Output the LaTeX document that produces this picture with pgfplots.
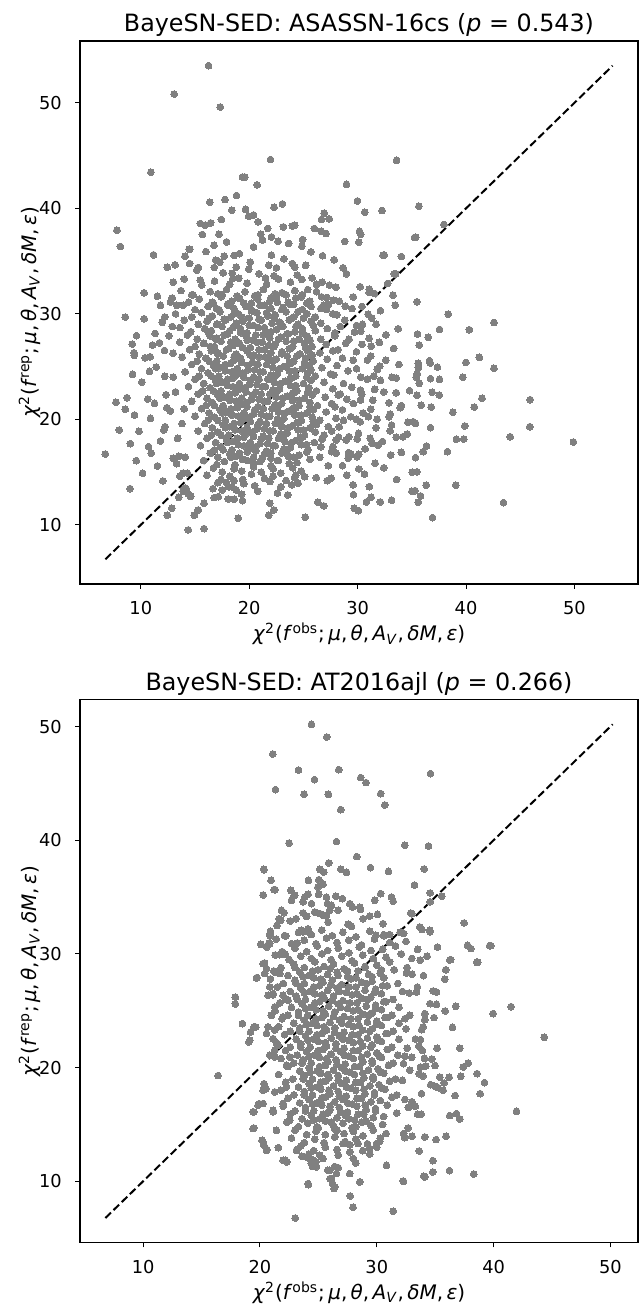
\documentclass[border=0pt]{standalone}
\usepackage{fontspec}
\setmainfont{DejaVu Sans}
\usepackage{pgfplots}
\pgfplotsset{compat=1.18}
\definecolor{ptgray}{HTML}{808080}

\newcommand{\chilab}[1]{\textit{χ}\textsuperscript{2}(\textit{f}\textsuperscript{#1};\,\textit{μ},\,\textit{θ},\,\textit{A}\textsubscript{\textit{V}},\,\textit{δM},\,\textit{ε})}

\pgfplotsset{
  ppc/.style={
    scale only axis, width=279pt, height=271.5pt,
    axis line style={line width=0.6pt},
    tick align=outside, xtick pos=bottom, ytick pos=left,
    major tick length=2.3pt,
    every tick/.style={black, line width=0.55pt},
    xtick={10,20,30,40,50}, ytick={10,20,30,40,50},
    /pgf/number format/assume math mode=true,
    tick label style={font=\fontsize{8.9}{10}\selectfont},
    xticklabel style={anchor=base, inner sep=0pt, yshift=-13pt},
    yticklabel style={anchor=east, inner sep=0pt, xshift=-6.6pt},
    every axis title/.style={at={(0.5,1)}, anchor=base, yshift=4.5pt,
      font=\fontsize{11.9}{13}\selectfont},
    every axis x label/.style={at={(axis description cs:0.5,-0.1046)}, anchor=base,
      font=\fontsize{10}{11}\selectfont},
    every axis y label/.style={at={(axis description cs:-0.0781,0.5)}, rotate=90, anchor=base,
      font=\fontsize{10}{11}\selectfont},
    xlabel={\chilab{obs}},
    ylabel={\chilab{rep}},
  },
  pts/.style={only marks, mark=*, mark size=1.7pt, color=ptgray,
    mark options={draw=ptgray, fill=ptgray, line width=0pt}},
  diag/.style={black, line width=1pt, dash pattern=on 3.9pt off 1.8pt, mark=none},
}

\begin{document}
\begin{tikzpicture}
\useasboundingbox (-40pt,-360pt) rectangle (280.5pt,292pt);

% ---------------- top panel ----------------
\begin{axis}[ppc, at={(0,0)}, anchor=south west,
  xmin=4.39, xmax=55.86, ymin=4.39, ymax=55.86,
  title={BayeSN-SED: ASASSN-16cs (\textit{p} = 0.543)}]
% outlying / sparse points
\addplot[pts] coordinates {
(16.25,53.52) (13.07,50.83) (17.33,49.6) (21.96,44.62) (33.59,44.55) (10.93,43.42) (19.38,42.97) (20.73,42.22)
(28.97,42.28) (18.83,41.21) (17.76,40.83) (16.35,40.58) (23.06,40.42) (22.29,40.1) (29.98,40.7) (35.65,40.2)
(18.4,39.82) (19.66,39.91) (19.94,39.25) (20.4,39.37) (30.65,39.63) (32.25,39.79) (26.92,39.54) (26.67,38.94)
(27.38,39.0) (17.42,38.94) (20.82,38.71) (15.49,38.56) (15.92,38.4) (16.44,38.62) (21.71,38.09) (23.15,38.24)
(23.98,38.33) (24.19,38.4) (37.95,38.47) (7.8,37.93) (15.67,37.52) (17.21,37.55) (21.07,37.55) (21.22,37.0)
(22.05,37.29) (22.66,36.88) (23.64,36.67) (26.0,38.09) (26.64,37.83) (27.07,37.61) (30.17,37.83) (30.29,37.52)
(35.24,37.23) (24.93,37.04) (24.86,36.41) (17.91,36.82) (16.75,36.5) (8.11,36.38) (20.4,36.34) (28.81,36.86)
(30.1,36.79) (14.45,36.13) (22.05,35.56) (11.17,35.59) (14.08,35.46) (17.7,35.46) (18.61,35.53) (25.69,35.87)
(26.76,35.5) (27.84,35.12) (32.34,35.56) (34.03,35.43) (16.9,35.09) (17.3,34.9) (14.51,34.77) (23.98,34.77)
(13.16,34.64) (12.45,34.42) (15.3,34.39) (15.16,34.14) (16.77,34.39) (18.8,34.42) (19.96,34.23) (22.51,34.36)
(28.66,34.36) (28.97,33.79) (24.19,34.42) (24.44,33.67) (24.86,33.26) (33.38,33.79) (17.6,33.89) (18.43,33.83)
(18.49,33.35) (19.04,33.38) (20.9,33.8) (21.5,33.4) (22.3,33.6) (22.7,33.3) (15.49,33.19) (15.62,32.72)
(32.77,32.88) (26.73,33.0) (27.4,32.72) (28.0,32.53) (30.23,32.57) (31.08,32.34) (25.4,32.3) (32.45,35.58)
(35.35,37.26) (33.5,33.8) (14.52,36.12) (19.6,42.96)
(35.47,31.14) (38.35,29.97) (42.57,29.18) (37.55,28.52) (40.3,28.49) (35.52,28.08) (36.51,27.77) (35.68,27.04)
(41.22,25.87) (36.63,25.55) (36.7,25.33) (39.98,25.39) (35.6,25.3) (35.6,24.9) (35.5,24.3) (35.4,24.0)
(37.36,24.95) (42.57,24.83) (39.7,23.98) (36.72,23.85) (37.55,23.79) (35.68,23.41) (36.87,22.56) (37.52,22.3)
(35.47,22.27) (41.47,21.99) (45.91,21.86) (35.86,21.33) (36.78,21.16) (40.76,21.16) (38.78,20.66) (35.34,19.62)
(36.72,19.2) (39.88,19.37) (45.88,19.3) (39.11,18.11) (39.79,18.13) (44.07,18.35) (49.9,17.85) (36.35,17.47)
(36.05,16.93) (38.28,16.93) (35.34,16.37) (35.47,15.01) (36.33,13.75) (39.05,13.75) (35.29,13.24) (35.8,12.74)
(35.59,12.14) (43.45,12.1) (36.91,10.68)
(26.67,31.61) (27.16,31.55) (28.85,30.73) (26.86,30.82) (27.13,30.42) (29.49,30.5) (31.06,32.03) (31.55,31.93)
(33.26,31.77) (33.47,30.82) (30.96,29.97) (31.7,29.0) (33.75,28.58) (30.44,29.0) (30.29,28.36) (29.71,28.27)
(31.06,27.67) (31.24,26.94) (33.32,26.72) (29.89,26.4) (30.9,25.62) (32.03,25.05) (31.82,24.74) (33.16,23.98)
(33.56,23.91) (30.3,24.0) (30.9,23.8) (31.5,24.1) (32.1,23.7) (31.57,22.84) (29.46,23.03) (30.26,22.77)
(34.79,22.71) (33.56,22.52) (30.38,22.37) (30.26,21.83) (32.89,21.57) (34.03,21.29) (33.93,21.1) (31.21,20.95)
(32.99,20.5) (32.89,20.22) (29.37,20.25) (29.89,20.0) (30.23,19.77) (30.99,20.25) (31.79,20.0) (31.7,19.2)
(33.13,19.46) (34.64,19.72) (35.13,19.77) (34.58,18.61) (34.18,18.35) (33.56,18.3) (30.08,18.67) (29.95,18.13)
(29.18,18.35) (28.94,18.04) (28.24,18.32) (28.02,18.04) (31.15,18.2) (31.33,17.73) (31.88,17.54) (27.71,17.41)
(27.59,16.93) (28.02,16.78) (29.16,16.84) (29.4,16.68) (29.95,16.46) (30.1,16.68) (29.13,16.31) (33.04,16.62)
(34.03,16.87) (31.61,15.83) (35.04,14.98) (30.63,14.82) (27.56,14.41) (27.2,14.19) (26.18,14.47) (25.11,14.56)
(24.19,14.47) (23.94,13.78) (23.55,12.83) (24.5,13.94) (29.58,13.78) (31.08,13.62) (35.01,13.18) (31.24,12.61)
(30.81,12.17) (29.61,12.86) (32.09,12.17) (33.13,12.33) (26.33,12.14) (26.88,11.79) (29.68,11.57) (30.07,11.34)
(21.89,12.04) (22.26,11.41) (21.8,10.91) (25.17,10.72) (27.3,30.9) (28.1,29.9) (28.4,28.8) (28.9,27.2)
(28.6,25.8) (29.1,24.6) (28.7,23.4) (29.0,21.9) (28.6,20.9) (28.3,19.3)
(10.31,31.99) (11.53,31.67) (14.7,31.8) (12.73,31.11) (13.32,30.8) (11.81,30.8) (8.57,29.69) (10.31,29.53)
(11.97,29.19) (9.6,27.92) (11.32,28.14) (9.21,27.13) (9.37,26.31) (9.39,26.06) (11.08,27.04) (11.72,27.25)
(12.18,26.53) (12.98,26.25) (10.4,25.83) (10.86,25.93) (11.42,24.95) (10.8,24.55) (9.24,24.26) (10.1,23.53)
(12.21,24.07) (12.33,22.33) (7.71,21.61) (8.72,22.05) (8.57,20.95) (10.65,21.92) (11.26,21.52) (9.42,20.41)
(10.89,20.09) (12.4,21.1) (12.73,20.79) (8.01,18.99) (9.83,18.86) (12.24,19.3) (12.12,18.99) (9.03,17.69)
(10.71,17.41) (10.96,16.78) (11.81,17.95) (6.73,16.71) (9.58,16.08) (11.53,15.58) (10.16,14.89) (12.03,14.16)
(9.0,13.43) (13.0,16.3) (13.5,16.5) (14.1,16.4) (13.3,15.8) (13.9,14.9) (14.3,14.9) (13.6,14.6)
(14.2,13.4) (13.9,13.2) (12.86,11.57) (12.45,10.91) (14.38,9.52) (15.83,9.64) (14.94,10.91) (15.3,11.41)
(15.83,12.04) (14.4,12.9) (14.6,12.7) (13.5,12.6) (14.1,13.5) (16.65,13.43) (17.14,12.67) (16.77,12.58)
(18.06,12.45) (18.61,12.42) (19.38,12.29) (18.98,10.62) (18.8,13.3) (18.4,13.6) (17.9,14.0) (18.6,14.2)
(13.4,18.2) (13.8,19.6) (14.0,21.0) (13.2,22.6) (13.0,24.0) (12.6,27.9) (12.2,29.7) (12.9,28.8)
(28.3,31.2) (29.6,31.6) (30.4,30.7) (32.1,30.3) (28.8,29.4) (29.9,28.9) (31.3,29.6) (32.6,28.0)
(27.9,28.2) (29.2,27.6) (30.4,27.1) (32.0,27.3) (28.2,26.6) (29.6,25.6) (31.2,26.0) (32.6,25.6)
(27.8,24.2) (29.9,24.8) (33.8,25.2) (28.4,22.4) (29.6,21.5) (31.4,21.8) (32.4,22.6) (27.9,21.2)
(30.5,20.6) (28.7,19.9) (33.0,18.9) (27.6,18.9) (30.7,17.2) (32.3,17.9) (28.6,15.6) (30.1,15.3)
(32.4,15.4) (27.3,15.6) (29.0,14.7) (33.6,14.3)
(14.0,33.3) (16.8,33.1) (19.8,32.9) (23.8,33.0) (25.8,33.4) (13.0,33.0) (20.1,34.9) (21.8,34.6)
(23.2,35.2) (25.2,34.6) (19.1,35.7) (16.0,35.9) (26.2,32.8) (18.2,32.8) (21.6,32.8)
};
% dense core
\addplot[pts] coordinates {
(13.7,32.2) (14.8,31.8) (16.4,32.1) (17.1,31.9) (17.9,32.3) (18.9,31.7) (19.6,32.1) (20.8,31.8) (21.3,32.3) (22.4,31.9) (23.0,32.0) (24.2,32.2) (24.9,31.8) (26.2,32.1)
(12.9,31.5) (14.4,31.1) (15.4,31.4) (16.7,31.0) (17.4,31.6) (18.4,31.2) (19.1,31.5) (20.2,31.0) (20.8,31.4) (21.9,31.2) (22.5,31.6) (23.6,31.1) (24.3,31.5) (25.6,31.2) (27.8,31.3)
(13.9,30.8) (15.0,30.4) (16.2,30.7) (17.0,30.5) (18.0,30.9) (18.6,30.5) (19.7,30.7) (20.3,30.3) (21.4,30.8) (22.0,30.5) (23.1,30.6) (23.8,30.9) (24.9,30.4) (25.7,30.7) (26.6,30.5)
(13.2,30.0) (14.7,29.7) (15.6,30.1) (16.6,29.8) (17.3,30.2) (18.3,29.7) (19.0,30.0) (20.0,29.6) (20.7,30.1) (21.7,29.8) (22.4,29.9) (23.4,30.2) (24.1,29.7) (25.3,30.0) (26.1,29.7) (27.7,30.0)
(14.0,29.4) (15.3,29.0) (16.1,29.3) (17.1,29.0) (17.7,29.5) (18.8,29.1) (19.4,29.3) (20.4,28.9) (21.1,29.4) (22.1,29.1) (22.8,29.2) (23.8,29.5) (24.5,29.0) (25.7,29.3) (26.6,29.1)
(13.6,28.7) (14.6,28.3) (15.9,28.6) (16.5,28.4) (17.5,28.8) (18.2,28.4) (19.2,28.6) (19.8,28.2) (20.8,28.7) (21.5,28.3) (22.5,28.5) (23.1,28.8) (24.2,28.3) (24.9,28.6) (26.1,28.4) (27.2,28.6)
(14.3,28.0) (15.2,27.6) (16.4,27.9) (17.0,27.7) (18.0,28.1) (18.7,27.6) (19.7,27.9) (20.3,27.5) (21.3,28.0) (21.9,27.7) (22.9,27.8) (23.6,28.1) (24.6,27.6) (25.3,27.9) (26.6,27.6) (27.9,27.9)
(13.6,27.3) (15.0,26.9) (15.8,27.2) (16.8,26.9) (17.4,27.4) (18.5,27.0) (19.1,27.2) (20.1,26.8) (20.7,27.3) (21.8,27.0) (22.4,27.1) (23.4,27.4) (24.0,26.9) (25.1,27.2) (25.8,26.9) (27.1,27.1)
(14.5,26.6) (15.4,26.2) (16.5,26.5) (17.1,26.3) (18.1,26.7) (18.8,26.2) (19.8,26.5) (20.4,26.1) (21.4,26.6) (22.0,26.3) (23.0,26.4) (23.7,26.7) (24.7,26.2) (25.4,26.5) (26.5,26.3) (27.7,26.5)
(13.8,25.9) (15.2,25.5) (16.0,25.8) (17.0,25.5) (17.6,26.0) (18.6,25.6) (19.2,25.8) (20.3,25.4) (20.9,25.9) (21.9,25.6) (22.5,25.7) (23.5,26.0) (24.1,25.5) (25.2,25.8) (25.9,25.5) (27.2,25.7)
(14.7,25.2) (15.6,24.8) (16.7,25.1) (17.3,24.9) (18.3,25.3) (18.9,24.8) (19.9,25.1) (20.5,24.7) (21.6,25.2) (22.2,24.9) (23.2,25.0) (23.8,25.3) (24.9,24.8) (25.5,25.1) (26.7,24.9) (28.1,25.1)
(14.1,24.5) (15.4,24.1) (16.2,24.4) (17.2,24.1) (17.8,24.6) (18.8,24.2) (19.4,24.4) (20.4,24.0) (21.0,24.5) (22.0,24.2) (22.6,24.3) (23.7,24.6) (24.3,24.1) (25.4,24.4) (26.1,24.1) (27.5,24.3)
(15.0,23.8) (15.8,23.4) (16.9,23.7) (17.5,23.5) (18.5,23.9) (19.1,23.4) (20.1,23.7) (20.7,23.3) (21.7,23.8) (22.3,23.5) (23.3,23.6) (23.9,23.9) (25.0,23.4) (25.7,23.7) (26.9,23.5)
(14.4,23.1) (15.7,22.7) (16.4,23.0) (17.4,22.7) (18.0,23.2) (19.0,22.8) (19.6,23.0) (20.6,22.6) (21.2,23.1) (22.2,22.8) (22.8,22.9) (23.8,23.2) (24.4,22.7) (25.5,23.0) (26.2,22.7) (27.7,22.9)
(15.3,22.4) (16.1,22.0) (17.1,22.3) (17.7,22.1) (18.7,22.5) (19.3,22.0) (20.3,22.3) (20.9,21.9) (21.9,22.4) (22.5,22.1) (23.5,22.2) (24.1,22.5) (25.1,22.0) (25.8,22.3) (27.0,22.1) (28.2,22.3)
(14.7,21.7) (16.0,21.3) (16.6,21.6) (17.6,21.3) (18.2,21.8) (19.2,21.4) (19.8,21.6) (20.8,21.2) (21.4,21.7) (22.4,21.4) (23.0,21.5) (24.0,21.8) (24.6,21.3) (25.6,21.6) (26.3,21.3) (27.6,21.5)
(15.6,21.0) (16.3,20.6) (17.3,20.9) (17.9,20.7) (18.9,21.1) (19.5,20.6) (20.5,20.9) (21.1,20.5) (22.1,21.0) (22.7,20.7) (23.7,20.8) (24.3,21.1) (25.3,20.6) (25.9,20.9) (27.1,20.7)
(15.0,20.3) (16.2,19.9) (16.8,20.2) (17.8,19.9) (18.4,20.4) (19.4,20.0) (20.0,20.2) (21.0,19.8) (21.6,20.3) (22.6,20.0) (23.2,20.1) (24.2,20.4) (24.8,19.9) (25.8,20.2) (26.5,19.9) (28.0,20.1)
(15.9,19.6) (16.6,19.2) (17.6,19.5) (18.2,19.3) (19.2,19.7) (19.8,19.2) (20.8,19.5) (21.4,19.1) (22.4,19.6) (23.0,19.3) (24.0,19.4) (24.6,19.7) (25.6,19.2) (26.2,19.5) (27.3,19.3)
(15.3,18.9) (16.5,18.5) (17.1,18.8) (18.1,18.5) (18.7,19.0) (19.7,18.6) (20.3,18.8) (21.3,18.4) (21.9,18.9) (22.9,18.6) (23.5,18.7) (24.5,19.0) (25.1,18.5) (26.1,18.8) (26.9,18.5)
(16.1,18.2) (16.9,17.8) (17.9,18.1) (18.5,17.9) (19.5,18.3) (20.1,17.8) (21.1,18.1) (21.7,17.7) (22.7,18.2) (23.3,17.9) (24.3,18.0) (24.9,18.3) (26.0,17.8) (26.7,18.1)
(15.5,17.5) (16.8,17.1) (17.4,17.4) (18.4,17.1) (19.0,17.6) (20.0,17.2) (20.6,17.4) (21.6,17.0) (22.2,17.5) (23.2,17.2) (23.8,17.3) (24.8,17.6) (25.4,17.1) (26.6,17.4)
(16.4,16.8) (17.1,16.4) (18.2,16.7) (18.8,16.5) (19.8,16.9) (20.4,16.4) (21.4,16.7) (22.0,16.3) (23.0,16.8) (23.6,16.5) (24.6,16.6) (25.3,16.9) (26.5,16.4)
(15.8,16.1) (17.0,15.7) (17.7,16.0) (18.7,15.7) (19.4,16.2) (20.4,15.8) (21.0,16.0) (22.0,15.6) (22.6,16.1) (23.7,15.8) (24.4,15.9) (25.6,16.2)
(16.7,15.4) (17.5,15.0) (18.6,15.3) (19.3,15.1) (20.4,15.5) (21.1,15.0) (22.2,15.3) (22.9,14.9) (24.0,15.4) (24.8,15.1)
(16.1,14.7) (17.4,14.3) (18.2,14.6) (19.4,14.3) (20.2,14.8) (21.4,14.4) (22.2,14.6) (23.4,14.2) (24.3,14.7)
(17.1,14.0) (18.1,13.6) (19.5,13.9) (20.5,13.7) (21.9,14.1) (22.9,13.6)
(17.5,13.3) (19.3,12.9) (20.8,13.2) (22.6,13.0)
};
% extra points filling the core
\addplot[pts] coordinates {
(17.5,31.8) (19.0,31.5) (20.5,31.7) (22.0,31.5) (23.4,31.8) (24.8,31.6)
(16.6,31.1) (18.1,30.8) (19.5,31.0) (21.0,30.8) (22.6,31.1) (24.1,30.9) (25.3,31.0)
(17.2,30.4) (18.7,30.1) (20.2,30.3) (21.6,30.1) (23.0,30.4) (24.5,30.2)
(16.3,29.6) (17.8,29.4) (19.3,29.7) (20.9,29.5) (22.3,29.6) (23.7,29.4) (25.0,29.6)
(17.0,29.0) (18.5,28.7) (20.0,28.9) (21.4,28.7) (22.9,29.0) (24.3,28.8) (25.9,28.9)
(16.2,28.3) (17.7,28.0) (19.2,28.2) (20.6,28.0) (22.0,28.3) (23.5,28.1) (24.9,28.2)
(16.9,27.6) (18.3,27.3) (19.8,27.5) (21.2,27.3) (22.7,27.6) (24.1,27.4) (25.6,27.5)
(16.4,26.9) (17.9,26.6) (19.4,26.8) (20.9,26.6) (22.3,26.9) (23.8,26.7) (25.2,26.8)
(17.1,26.2) (18.6,25.9) (20.1,26.1) (21.5,25.9) (23.0,26.2) (24.4,26.0) (25.8,26.1)
(16.3,25.5) (17.8,25.2) (19.3,25.4) (20.8,25.2) (22.2,25.5) (23.7,25.3) (25.1,25.4)
(16.9,24.8) (18.4,24.5) (19.9,24.7) (21.3,24.5) (22.8,24.8) (24.2,24.6) (25.7,24.7)
(16.5,24.1) (18.0,23.8) (19.5,24.0) (20.9,23.8) (22.4,24.1) (23.8,23.9) (25.3,24.0)
(17.0,23.4) (18.5,23.1) (20.0,23.3) (21.5,23.1) (22.9,23.4) (24.3,23.2)
(16.7,22.7) (18.2,22.4) (19.7,22.6) (21.1,22.4) (22.6,22.7) (24.0,22.5) (25.4,22.6)
(17.3,22.0) (18.8,21.7) (20.2,21.9) (21.7,21.7) (23.1,22.0) (24.6,21.8)
(16.8,21.3) (18.3,21.0) (19.8,21.2) (21.3,21.0) (22.7,21.3) (24.1,21.1) (25.6,21.2)
(17.5,20.6) (19.0,20.3) (20.4,20.5) (21.9,20.3) (23.3,20.6) (24.8,20.4)
(17.1,19.9) (18.6,19.6) (20.1,19.8) (21.6,19.6) (23.0,19.9) (24.4,19.7) (25.9,19.8)
(17.8,19.2) (19.3,18.9) (20.7,19.1) (22.2,18.9) (23.6,19.2) (25.0,19.0)
(17.4,18.5) (18.9,18.2) (20.4,18.4) (21.8,18.2) (23.2,18.5) (24.7,18.3)
(18.0,17.8) (19.5,17.5) (21.0,17.7) (22.4,17.5) (23.9,17.8) (25.3,17.6)
(17.6,17.1) (19.1,16.8) (20.6,17.0) (22.0,16.8) (23.5,17.1)
(18.3,16.4) (19.8,16.1) (21.2,16.3) (22.7,16.1) (24.1,16.4)
};
\addplot[diag] coordinates {(6.73,6.73) (53.52,53.52)};
\end{axis}

% ---------------- bottom panel ----------------
\begin{axis}[ppc, at={(0,-329.35pt)}, anchor=south west,
  xmin=4.6, xmax=52.36, ymin=4.6, ymax=52.36,
  title={BayeSN-SED: AT2016ajl (\textit{p} = 0.266)}]
\addplot[pts] coordinates {
(24.41,50.19) (25.72,49.08) (21.1,47.58) (23.3,46.17) (26.75,46.21) (34.6,45.86) (24.67,45.33) (28.63,45.51)
(29.08,45.07) (21.33,44.45) (23.78,44.04) (25.86,44.04) (30.34,44.1) (30.69,43.1) (26.92,42.69) (22.49,39.75)
(26.55,39.88) (32.4,39.55) (34.43,39.49) (28.29,38.56) (20.33,37.44) (25.89,38.0) (25.12,37.44) (25.46,37.2)
(26.92,37.44) (27.41,37.18) (29.46,37.59) (31.0,37.26) (34.05,37.47) (20.95,36.47) (24.15,36.47) (25.04,36.53)
(25.4,36.12) (24.97,35.88) (33.23,36.06) (20.27,35.18) (21.21,35.66) (22.64,35.59) (22.7,34.71) (22.98,35.15)
(30.34,35.3) (29.83,34.71) (31.26,35.0) (31.4,34.63) (34.56,35.36) (35.56,35.07) (34.56,34.57) (29.4,33.33)
(30.06,33.48) (28.83,33.1) (32.91,33.6) (37.47,32.72) (30.54,32.66) (21.84,33.83) (22.06,33.63) (21.78,32.95)
(21.46,32.5) (27.54,32.6) (27.83,32.43) (33.68,32.37) (34.54,32.07) (23.84,35.0) (24.12,35.24) (23.69,34.57)
(24.41,34.42) (24.69,33.69) (25.12,33.55) (25.03,35.24) (25.69,35.0) (25.78,34.42) (26.12,34.27) (26.49,35.07)
(27.06,34.86) (26.69,33.83) (25.98,33.83) (25.69,33.39) (25.83,32.8) (25.4,33.39) (27.69,34.42) (27.92,34.12)
(28.54,34.12) (28.6,33.9) (23.7,33.6) (24.0,33.3) (23.55,32.07) (24.1,32.2) (22.6,32.9) (23.1,33.1)
(20.35,37.41) (21.3,35.65) (22.92,35.15) (21.65,33.1) (20.88,31.61) (22.22,31.58) (20.11,30.82) (20.78,30.96)
(21.7,29.94) (22.18,29.96) (23.2,30.96) (23.69,31.93) (24.21,31.9) (29.93,31.64) (30.6,31.6) (31.1,31.7)
(32.3,31.8) (32.99,33.54) (33.86,32.14) (34.56,31.94) (36.32,29.5) (38.64,29.27) (39.76,30.73) (33.5,30.4)
(34.3,29.8) (35.2,30.6) (35.9,28.6) (33.0,29.6)
(37.77,30.76) (38.05,30.47) (39.67,30.73) (33.71,29.46) (36.25,29.46) (38.56,29.26) (32.54,28.32) (33.02,28.21)
(34.0,28.09) (35.82,27.77) (34.82,26.74) (35.11,26.65) (33.48,27.09) (33.4,26.65) (32.77,26.56) (34.56,25.63)
(35.11,25.57) (36.76,25.39) (35.85,24.98) (41.5,25.36) (39.96,24.75) (34.11,24.75) (32.83,24.6) (32.42,24.31)
(34.11,24.22) (34.9,24.4) (36.48,23.54) (33.96,23.57) (33.85,23.34) (44.33,22.66) (32.5,23.4) (33.31,22.52)
(33.74,22.46) (35.16,21.7) (37.11,21.7) (32.6,21.7) (32.4,21.0) (33.0,20.9) (33.6,21.9) (33.9,21.5)
(34.08,20.82) (34.71,20.76) (34.99,20.18) (34.2,20.14) (33.74,20.05) (37.82,20.4) (37.39,20.05) (32.29,20.35)
(32.83,19.76) (32.2,18.88) (33.62,19.47) (33.96,19.26) (35.39,19.17) (36.19,19.15) (37.19,19.23) (38.59,19.47)
(39.22,18.68) (34.62,18.5) (34.97,18.36) (35.25,18.24) (35.68,18.0) (35.76,18.65) (33.83,17.71) (36.71,17.54)
(38.85,17.71) (32.4,17.2) (33.0,17.0) (33.3,16.6) (32.7,16.5) (33.5,15.9) (33.8,15.9) (41.96,16.16)
(36.25,15.78) (36.82,15.95) (37.11,15.48) (32.68,14.69) (32.31,14.2) (32.4,13.84) (33.02,13.96) (34.11,13.9)
(35.08,13.67) (35.93,13.96) (33.63,12.67) (34.8,11.82) (34.02,10.44) (34.8,10.82) (36.22,10.94) (38.3,10.64)
(32.25,10.03)
(16.42,19.3) (17.9,26.2) (17.9,25.6) (18.5,23.87) (19.06,22.25) (19.2,23.13) (19.65,23.57) (19.76,27.92)
(19.93,16.83) (19.47,16.1) (19.47,14.69) (20.18,13.6) (20.35,13.17) (20.6,12.79) (20.35,18.59) (20.53,18.15)
(21.13,16.24) (21.58,12.96) (22.18,11.85) (22.3,11.7) (23.16,12.79) (24.14,9.71) (23.02,6.77) (23.6,12.2)
(24.3,12.0) (24.4,11.6) (24.5,11.3) (25.8,10.97) (26.0,10.24) (26.21,9.8) (26.35,9.36) (26.7,11.2)
(27.72,8.71) (27.97,7.71) (28.56,9.94) (31.41,7.36) (32.29,10.0) (34.11,10.38)
(20.07,30.85) (20.84,31.73) (20.84,30.91) (20.27,29.15) (20.56,28.71) (20.41,28.27) (19.7,27.89) (21.27,28.4)
(21.7,28.27) (20.84,27.1) (21.13,26.51) (20.7,26.36) (21.98,26.36) (22.41,25.92) (21.27,25.34) (20.98,24.6)
(21.98,24.46) (19.5,23.58) (19.13,22.4) (20.7,23.58) (21.27,23.3) (20.56,23.0) (21.13,22.55) (21.56,21.97)
(21.27,21.53) (20.84,21.09) (21.27,20.94) (22.55,20.94) (22.27,20.2) (20.41,18.3) (20.27,18.0) (21.27,17.86)
(22.27,18.3) (20.27,16.84) (19.84,16.69) (19.41,16.1) (21.13,16.1) (21.98,16.84) (19.41,14.64) (21.41,14.49)
(22.55,15.37) (20.27,13.46) (20.56,12.73) (21.98,11.85) (23.13,12.73) (24.12,9.8) (25.98,10.97) (26.12,10.24)
(26.41,9.5) (23.98,12.15) (24.55,11.85) (25.12,12.29) (24.84,11.27) (27.12,13.32) (27.69,12.58) (28.41,13.32)
(29.4,12.88) (29.98,13.32) (30.26,13.52) (30.83,11.41) (28.55,9.95) (26.55,10.68) (27.69,10.68)
};
\addplot[pts] coordinates {
(20.9,32.0) (22.1,31.6) (23.3,31.9) (24.4,31.7) (25.3,32.1) (26.2,31.6) (27.1,31.9) (28.2,31.5) (29.4,32.0) (30.6,31.7) (32.0,31.9)
(21.4,31.3) (22.7,30.9) (23.8,31.2) (24.8,30.9) (25.7,31.4) (26.6,31.0) (27.6,31.2) (28.7,30.8) (29.8,31.3) (31.1,31.0) (32.5,31.1)
(20.6,30.6) (21.9,30.2) (23.0,30.5) (24.0,30.2) (24.9,30.7) (25.8,30.3) (26.7,30.5) (27.6,30.1) (28.5,30.6) (29.5,30.3) (30.5,30.4) (31.6,30.7)
(21.3,29.9) (22.5,29.5) (23.5,29.8) (24.4,29.6) (25.3,30.0) (26.1,29.5) (27.0,29.8) (27.9,29.4) (28.8,29.9) (29.7,29.6) (30.8,29.7) (32.1,30.0)
(20.4,29.2) (21.8,28.8) (22.9,29.1) (23.8,28.8) (24.7,29.3) (25.5,28.9) (26.3,29.1) (27.2,28.7) (28.1,29.2) (29.0,28.9) (30.0,29.0) (31.1,29.3) (32.6,28.8)
(21.2,28.5) (22.4,28.1) (23.4,28.4) (24.2,28.1) (25.0,28.6) (25.8,28.2) (26.6,28.4) (27.5,28.0) (28.4,28.5) (29.3,28.2) (30.3,28.3) (31.5,28.6)
(20.9,27.8) (22.0,27.4) (23.0,27.7) (23.8,27.4) (24.6,27.9) (25.4,27.5) (26.2,27.7) (27.0,27.3) (27.8,27.8) (28.7,27.5) (29.6,27.6) (30.6,27.9) (31.8,27.4)
(21.5,27.1) (22.6,26.7) (23.5,27.0) (24.3,26.7) (25.1,27.2) (25.8,26.8) (26.6,27.0) (27.4,26.6) (28.2,27.1) (29.0,26.8) (29.9,26.9) (30.9,27.2) (32.2,26.7)
(21.1,26.4) (22.2,26.0) (23.1,26.3) (23.9,26.0) (24.7,26.5) (25.5,26.1) (26.3,26.3) (27.1,25.9) (27.9,26.4) (28.7,26.1) (29.5,26.2) (30.4,26.5) (31.4,26.0)
(21.7,25.7) (22.7,25.3) (23.6,25.6) (24.4,25.3) (25.1,25.8) (25.9,25.4) (26.7,25.6) (27.5,25.2) (28.3,25.7) (29.1,25.4) (29.9,25.5) (30.8,25.8) (31.9,25.3)
(21.3,25.0) (22.4,24.6) (23.3,24.9) (24.1,24.6) (24.8,25.1) (25.6,24.7) (26.4,24.9) (27.2,24.5) (28.0,25.0) (28.8,24.7) (29.6,24.8) (30.4,25.1) (31.3,24.6)
(21.9,24.3) (22.9,23.9) (23.8,24.2) (24.5,23.9) (25.3,24.4) (26.0,24.0) (26.8,24.2) (27.6,23.8) (28.4,24.3) (29.2,24.0) (30.0,24.1) (30.9,24.4) (31.9,23.9)
(21.6,23.6) (22.6,23.2) (23.4,23.5) (24.2,23.2) (24.9,23.7) (25.7,23.3) (26.4,23.5) (27.2,23.1) (28.0,23.6) (28.8,23.3) (29.6,23.4) (30.4,23.7) (31.4,23.2)
(22.1,22.9) (23.1,22.5) (23.9,22.8) (24.6,22.5) (25.3,23.0) (26.1,22.6) (26.8,22.8) (27.6,22.4) (28.4,22.9) (29.2,22.6) (30.0,22.7) (30.9,23.0) (31.9,22.5)
(21.4,22.2) (22.6,21.8) (23.5,22.1) (24.3,21.8) (25.0,22.3) (25.7,21.9) (26.5,22.1) (27.2,21.7) (28.0,22.2) (28.8,21.9) (29.6,22.0) (30.4,22.3) (31.3,21.8)
(22.2,21.5) (23.2,21.1) (24.0,21.4) (24.7,21.1) (25.4,21.6) (26.1,21.2) (26.9,21.4) (27.6,21.0) (28.4,21.5) (29.2,21.2) (30.0,21.3) (30.9,21.6) (31.8,21.1)
(21.8,20.8) (22.9,20.4) (23.7,20.7) (24.4,20.4) (25.1,20.9) (25.8,20.5) (26.5,20.7) (27.3,20.3) (28.0,20.8) (28.8,20.5) (29.6,20.6) (30.4,20.9) (31.4,20.4)
(22.4,20.1) (23.4,19.7) (24.2,20.0) (24.9,19.7) (25.6,20.2) (26.3,19.8) (27.0,20.0) (27.7,19.6) (28.5,20.1) (29.3,19.8) (30.1,19.9) (31.0,20.2)
(21.6,19.4) (22.8,19.0) (23.8,19.3) (24.5,19.0) (25.2,19.5) (25.9,19.1) (26.7,19.3) (27.4,18.9) (28.1,19.4) (28.9,19.1) (29.7,19.2) (30.6,19.5) (31.6,19.0)
(22.2,18.7) (23.3,18.3) (24.2,18.6) (24.9,18.3) (25.6,18.8) (26.3,18.4) (27.0,18.6) (27.8,18.2) (28.6,18.7) (29.4,18.4) (30.2,18.5) (31.1,18.8)
(21.8,18.0) (22.9,17.6) (23.8,17.9) (24.5,17.6) (25.2,18.1) (26.0,17.7) (26.7,17.9) (27.4,17.5) (28.2,18.0) (29.0,17.7) (29.8,17.8) (30.7,18.1) (31.7,17.6)
(22.4,17.3) (23.4,16.9) (24.2,17.2) (24.9,16.9) (25.6,17.4) (26.4,17.0) (27.1,17.2) (27.9,16.8) (28.7,17.3) (29.5,17.0) (30.3,17.1) (31.3,17.4)
(22.0,16.6) (23.0,16.2) (23.9,16.5) (24.6,16.2) (25.3,16.7) (26.0,16.3) (26.8,16.5) (27.5,16.1) (28.3,16.6) (29.1,16.3) (29.9,16.4) (30.9,16.7)
(22.6,15.9) (23.6,15.5) (24.4,15.8) (25.1,15.5) (25.8,16.0) (26.6,15.6) (27.3,15.8) (28.1,15.4) (28.9,15.9) (29.7,15.6) (30.6,15.7) (31.7,16.0)
(22.3,15.2) (23.3,14.8) (24.1,15.1) (24.9,14.8) (25.6,15.3) (26.3,14.9) (27.1,15.1) (27.9,14.7) (28.7,15.2) (29.5,14.9) (30.5,15.0)
(23.0,14.5) (24.0,14.1) (24.8,14.4) (25.6,14.1) (26.4,14.6) (27.2,14.2) (28.0,14.4) (28.8,14.0) (29.7,14.5) (30.8,14.2)
(22.7,13.8) (23.8,13.4) (24.7,13.7) (25.5,13.4) (26.4,13.9) (27.3,13.5) (28.2,13.7) (29.2,13.3) (30.3,13.8)
(23.5,13.1) (24.6,12.7) (25.6,13.0) (26.6,12.8) (27.7,13.2) (28.8,12.7) (30.0,13.0)
(24.2,12.4) (25.4,12.0) (26.7,12.3) (28.0,12.0) (29.4,12.4)
(24.8,11.7) (26.4,11.3) (28.2,11.6)
};
% extra points filling the core
\addplot[pts] coordinates {
(23.0,28.8) (24.5,28.5) (26.0,28.7) (27.5,28.5) (29.0,28.8) (30.4,28.6)
(23.7,28.0) (25.2,27.8) (26.7,28.1) (28.2,27.9) (29.6,28.0)
(23.1,27.4) (24.6,27.1) (26.1,27.3) (27.6,27.1) (29.1,27.4) (30.5,27.2)
(23.8,26.6) (25.3,26.4) (26.8,26.7) (28.3,26.5) (29.8,26.6)
(23.2,26.0) (24.7,25.7) (26.2,25.9) (27.7,25.7) (29.2,26.0) (30.6,25.8)
(23.9,25.2) (25.4,25.0) (26.9,25.3) (28.4,25.1) (29.9,25.2)
(23.3,24.6) (24.8,24.3) (26.3,24.5) (27.8,24.3) (29.3,24.6) (30.7,24.4)
(24.0,23.8) (25.5,23.6) (27.0,23.9) (28.5,23.7) (30.0,23.8)
(23.4,23.2) (24.9,22.9) (26.4,23.1) (27.9,22.9) (29.4,23.2) (30.8,23.0)
(24.1,22.4) (25.6,22.2) (27.1,22.5) (28.6,22.3) (30.1,22.4)
(23.5,21.8) (25.0,21.5) (26.5,21.7) (28.0,21.5) (29.5,21.8) (30.9,21.6)
(24.2,21.0) (25.7,20.8) (27.2,21.1) (28.7,20.9) (30.2,21.0)
(23.6,20.4) (25.1,20.1) (26.6,20.3) (28.1,20.1) (29.6,20.4)
(24.3,19.6) (25.8,19.4) (27.3,19.7) (28.8,19.5) (30.3,19.6)
(23.7,19.0) (25.2,18.7) (26.7,18.9) (28.2,18.7) (29.7,19.0)
(24.4,18.2) (25.9,18.0) (27.4,18.3) (28.9,18.1) (30.4,18.2)
(23.8,17.6) (25.3,17.3) (26.8,17.5) (28.3,17.3) (29.8,17.6)
(24.5,16.8) (26.0,16.6) (27.5,16.9) (29.0,16.7)
(23.9,16.2) (25.4,15.9) (26.9,16.1) (28.4,15.9) (29.9,16.2)
(24.6,15.4) (26.1,15.2) (27.6,15.5) (29.1,15.3)
(25.0,14.7) (26.6,14.5) (28.2,14.8)
};
\addplot[diag] coordinates {(6.77,6.77) (50.19,50.19)};
\end{axis}
\end{tikzpicture}
\end{document}
